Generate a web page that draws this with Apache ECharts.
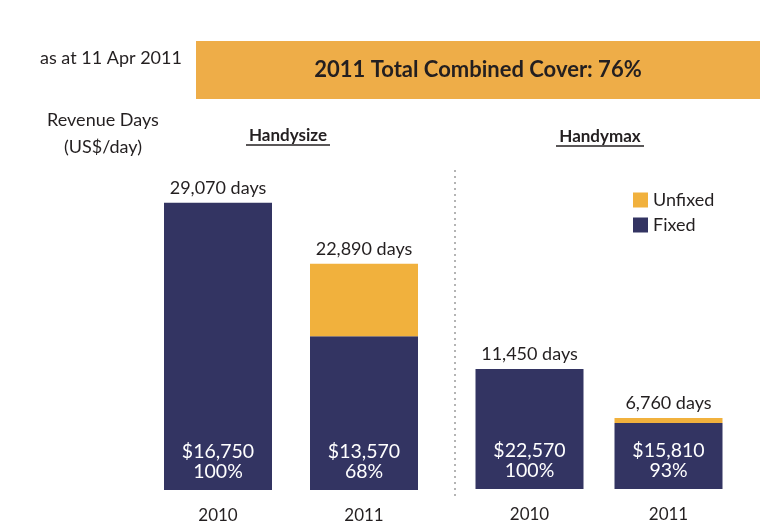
<!DOCTYPE html>
<html>
<head>
<meta charset="utf-8">
<script src="https://cdn.jsdelivr.net/npm/echarts@6/dist/echarts.min.js"></script>
<style>
  html, body { margin: 0; padding: 0; background: #fff; }
  #chart { width: 782px; height: 526px; }
</style>
</head>
<body>
<div id="chart"></div>
<script>
// categories (years) for each panel
const years = ['2010', '2011'];

// Handysize panel
const handysizeDays = [29070, 22890];
const handysizeFixedPct = [100, 68];
const handysizeRate = [16750, 13570];

// Handymax panel
const handymaxDays = [11450, 6760];
const handymaxFixedPct = [100, 93];
const handymaxRate = [22570, 15810];

const navy = '#333462';
const orange = '#F1B13D';
const textDark = '#231F20';
const fontFam = 'Lato, "Open Sans", sans-serif';

var myChart = echarts.init(document.getElementById('chart'));

// split total days into fixed / unfixed using the cover %
var fixedOf = (days, pct) => days.map((d, i) => Math.round(d * pct[i] / 100));
var unfixedOf = (days, pct) => days.map((d, i) => d - Math.round(d * pct[i] / 100));

var fmtNum = (v) => v.toLocaleString('en-US');

function panelSeries(idx, days, pct, rate) {
    return [{
        name: 'Fixed',
        type: 'bar',
        stack: 'p' + idx,
        xAxisIndex: idx,
        yAxisIndex: idx,
        barWidth: 108,
        itemStyle: { color: navy },
        label: {
            show: true,
            position: 'insideBottom',
            distance: 8,
            color: '#fff',
            fontFamily: fontFam,
            fontSize: 19.5,
            lineHeight: 20,
            formatter: (p) => '$' + fmtNum(rate[p.dataIndex]) + '\n' + pct[p.dataIndex] + '%'
        },
        data: fixedOf(days, pct)
    }, {
        name: 'Unfixed',
        type: 'bar',
        stack: 'p' + idx,
        xAxisIndex: idx,
        yAxisIndex: idx,
        barWidth: 108,
        itemStyle: { color: orange },
        label: {
            show: true,
            position: 'top',
            distance: 6,
            color: textDark,
            fontFamily: fontFam,
            fontSize: 18,
            formatter: (p) => fmtNum(days[p.dataIndex]) + ' days'
        },
        data: unfixedOf(days, pct)
    }];
}

var xAxisBase = {
    type: 'category',
    data: years,
    axisLine: { show: false },
    axisTick: { show: false },
    axisLabel: { color: textDark, fontFamily: fontFam, fontSize: 17, margin: 17 }
};
var yAxisBase = {
    type: 'value',
    min: 0,
    show: false,
    splitLine: { show: false }
};

option = {
    animation: false,
    backgroundColor: '#fff',
    textStyle: { fontFamily: fontFam },
    grid: [
        { left: 145, top: 190, width: 292, height: 300 },
        { left: 460, top: 190, width: 278, height: 299 }
    ],
    xAxis: [
        Object.assign({ gridIndex: 0 }, xAxisBase),
        Object.assign({ gridIndex: 1 }, xAxisBase)
    ],
    yAxis: [
        Object.assign({ gridIndex: 0, max: 30360 }, yAxisBase),
        Object.assign({ gridIndex: 1, max: 28500 }, yAxisBase)
    ],
    legend: {
        data: ['Unfixed', 'Fixed'],
        orient: 'vertical',
        left: 628,
        top: 186,
        itemWidth: 15,
        itemHeight: 15,
        itemGap: 7,
        icon: 'rect',
        textStyle: { color: textDark, fontFamily: fontFam, fontSize: 18 }
    },
    graphic: [
        // title box
        { type: 'rect', shape: { x: 196, y: 41, width: 564, height: 58 }, style: { fill: '#EEAD48' } },
        { type: 'text', x: 478, y: 70, style: { text: '2011 Total Combined Cover: 76%', fill: textDark, font: 'bold 22px ' + fontFam, align: 'center', verticalAlign: 'middle' } },
        { type: 'text', x: 40, y: 58, style: { text: 'as at 11 Apr 2011', fill: textDark, font: '18px ' + fontFam, verticalAlign: 'middle' } },
        { type: 'text', x: 103, y: 120, style: { text: 'Revenue Days', fill: textDark, font: '18px ' + fontFam, align: 'center', verticalAlign: 'middle' } },
        { type: 'text', x: 103, y: 147, style: { text: '(US$/day)', fill: textDark, font: '18px ' + fontFam, align: 'center', verticalAlign: 'middle' } },
        // panel headings, underlined
        { type: 'text', x: 288, y: 136, style: { text: 'Handysize', fill: textDark, font: 'bold 17px ' + fontFam, align: 'center', verticalAlign: 'middle' } },
        { type: 'line', shape: { x1: 246, y1: 145, x2: 330, y2: 145 }, style: { stroke: textDark, lineWidth: 1.3 } },
        { type: 'text', x: 600, y: 137, style: { text: 'Handymax', fill: textDark, font: 'bold 17px ' + fontFam, align: 'center', verticalAlign: 'middle' } },
        { type: 'line', shape: { x1: 556, y1: 146, x2: 644, y2: 146 }, style: { stroke: textDark, lineWidth: 1.3 } },
        // divider between panels
        { type: 'line', shape: { x1: 455, y1: 170, x2: 455, y2: 497 }, style: { stroke: '#B4B4B4', lineWidth: 2, lineDash: [2, 4] } }
    ],
    series: [].concat(
        panelSeries(0, handysizeDays, handysizeFixedPct, handysizeRate),
        panelSeries(1, handymaxDays, handymaxFixedPct, handymaxRate)
    )
};
myChart.setOption(option);
</script>
</body>
</html>
